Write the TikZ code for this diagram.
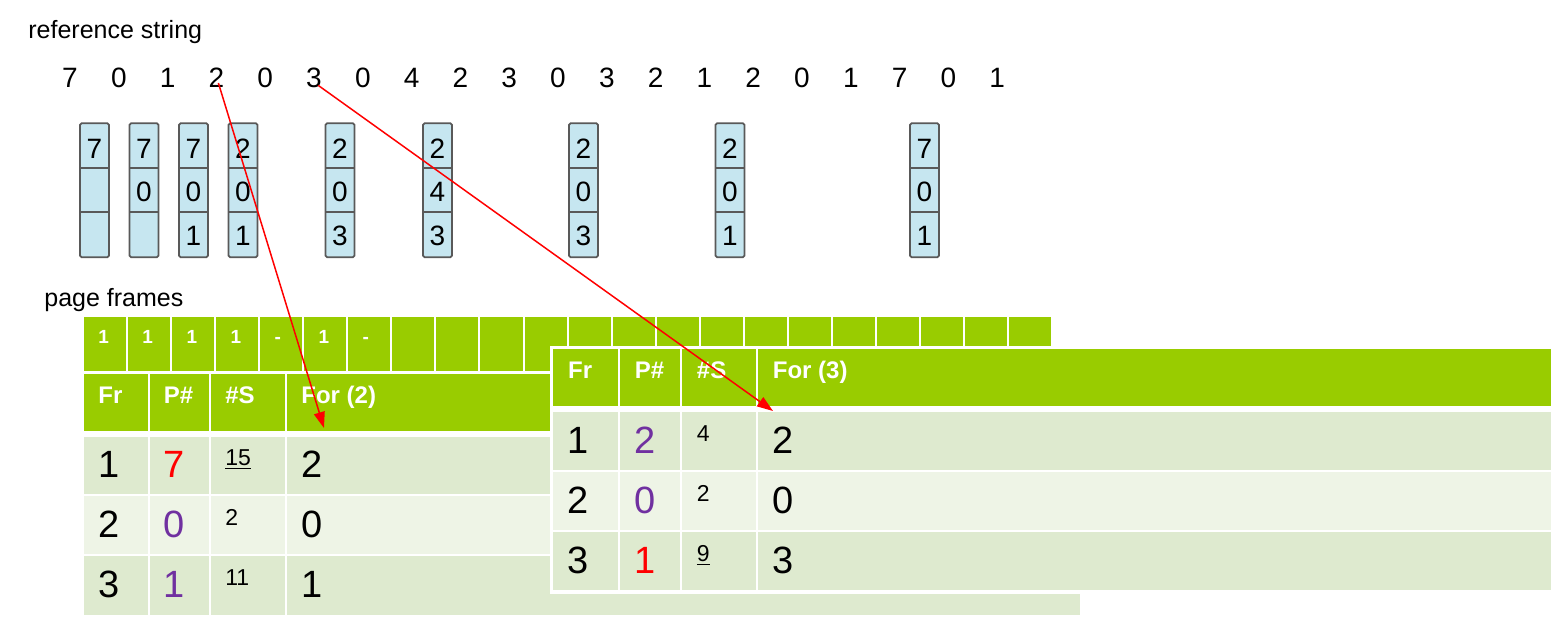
\documentclass[tikz,border=0pt]{standalone}
\usepackage{fontspec}
\setmainfont{Liberation Sans}
\usepackage{tikz}
\usetikzlibrary{arrows.meta,positioning}
\definecolor{framegreen}{HTML}{99CC00}
\definecolor{banddark}{HTML}{DEEACF}
\definecolor{bandlight}{HTML}{EEF4E6}
\definecolor{frameblue}{HTML}{C6E6F0}
\definecolor{pagepurple}{HTML}{7030A0}
\definecolor{hitred}{HTML}{FF0000}

\begin{document}
\begin{tikzpicture}[x=0.5pt,y=-0.5pt,
  cellbox/.style={draw=white, line width=1pt},
  headtxt/.style={anchor=base west, inner sep=0pt, text=white,
    font=\fontsize{12}{12}\selectfont\bfseries},
  bodytxt/.style={anchor=base west, inner sep=0pt,
    font=\fontsize{19}{19}\selectfont},
  cnttxt/.style={anchor=base west, inner sep=0pt,
    font=\fontsize{11.5}{11.5}\selectfont},
  digit/.style={anchor=base, inner sep=0pt,
    font=\fontsize{14}{14}\selectfont}]
  \useasboundingbox (0,0) rectangle (1557,631);

  %% Captions
  \node[anchor=base west, inner sep=0pt, font=\fontsize{12.5}{12.5}\selectfont]
    (reflbl) at (28,39) {reference string};
  \node[anchor=base west, inner sep=0pt, font=\fontsize{12.5}{12.5}\selectfont]
    (pflbl) at (44,306) {page frames};

  %% Reference string
  \foreach \d [count=\i] in {7,0,1,2,0,3,0,4,2,3,0,3,2,1,2,0,1,7,0,1}
    \node[digit] (r\i) at ({70+48.8*(\i-1)},88) {\d};

  %% Frame contents after each fault
  \foreach \x/\a/\b/\c [count=\k] in {94.5/7/{}/{}, 144/7/0/{}, 193.5/7/0/1,
      243/2/0/1, 340/2/0/3, 437.5/2/4/3, 583.5/2/0/3, 730/2/0/1, 924.5/7/0/1} {
    \draw[fill=frameblue, draw=black!65, line width=0.9pt, rounded corners=0.8pt]
      (\x-14.5,123.3) rectangle (\x+14.5,257.3);
    \draw[black!65, line width=0.9pt]
      (\x-14.5,168) -- (\x+14.5,168) (\x-14.5,212) -- (\x+14.5,212);
    \node[digit] (fa\k) at (\x,158) {\a};
    \node[digit] (fb\k) at (\x,201.5) {\b};
    \node[digit] (fc\k) at (\x,245) {\c};
  }

  %% Usage strip
  \foreach \i in {0,...,21}
    \draw[cellbox, fill=framegreen] ({83+44.05*\i},316) rectangle ({83+44.05*(\i+1)},372);
  \foreach \v [count=\i from 0] in {1,1,1,1,-,1,-}
    \node[headtxt, font=\fontsize{9.5}{9.5}\selectfont\bfseries]
      (u\i) at ({98+44.05*\i},343.3) {\v};

  %% Table for (2)
  \foreach \xa/\xb/\t [count=\i] in {83/148.5/Fr, 148.5/210/P\#, 210/286/\#S, 286/1081/For (2)} {
    \draw[cellbox, fill=framegreen] (\xa,372.5) rectangle (\xb,431.5);
    \node[headtxt] (Lh\i) at (\xa+15,403) {\t};
  }
  \foreach \ya/\yb/\fr/\pg/\pc/\cnt/\fo/\band [count=\r] in {
      436/494.5/1/7/hitred/\underline{15}/2/banddark,
      494.5/555/2/0/pagepurple/2/0/bandlight,
      555/615.5/3/1/pagepurple/11/1/banddark} {
    \foreach \xa/\xb in {83/148.5,148.5/210,210/286,286/1081}
      \draw[cellbox, fill=\band] (\xa,\ya) rectangle (\xb,\yb);
    \node[bodytxt] (Lfr\r) at (98,{(\ya+\yb)/2+12.5}) {\fr};
    \node[bodytxt, text=\pc] (Lpg\r) at (163.5,{(\ya+\yb)/2+12.5}) {\pg};
    \node[cnttxt] (Lcnt\r) at (225,{(\ya+\yb)/2+0.5}) {\cnt};
    \node[bodytxt] (Lfo\r) at (301,{(\ya+\yb)/2+12.5}) {\fo};
  }

  %% Table for (3), laid over the first one
  \fill[white] (549.5,345.5) rectangle (1555,593.5);
  \foreach \xa/\xb/\t [count=\i] in {552.3/619/Fr, 619/681/P\#, 681/757/\#S, 757/1552/For (3)} {
    \draw[cellbox, fill=framegreen] (\xa,347.5) rectangle (\xb,406.5);
    \node[headtxt] (Rh\i) at (\xa+15.5,378.3) {\t};
  }
  \foreach \ya/\yb/\fr/\pg/\pc/\cnt/\fo/\band [count=\r] in {
      411/470.5/1/2/pagepurple/4/2/banddark,
      470.5/531/2/0/pagepurple/2/0/bandlight,
      531/591/3/1/hitred/\underline{9}/3/banddark} {
    \foreach \xa/\xb in {552.3/619,619/681,681/757,757/1552}
      \draw[cellbox, fill=\band] (\xa,\ya) rectangle (\xb,\yb);
    \node[bodytxt] (Rfr\r) at (567.5,{(\ya+\yb)/2+12.5}) {\fr};
    \node[bodytxt, text=\pc] (Rpg\r) at (634.5,{(\ya+\yb)/2+12.5}) {\pg};
    \node[cnttxt] (Rcnt\r) at (696.5,{(\ya+\yb)/2+0.5}) {\cnt};
    \node[bodytxt] (Rfo\r) at (772.5,{(\ya+\yb)/2+12.5}) {\fo};
  }

  %% Pointers from the string into the tables
  \coordinate (tipA) at (324,428);
  \coordinate (tipB) at (773,411);
  \draw[hitred, line width=0.75pt, -{Triangle[length=8pt,width=5.5pt]}]
    ([xshift=1pt,yshift=-2.4pt]r4.center) -- (tipA);
  \draw[hitred, line width=0.75pt, -{Triangle[length=8pt,width=5.5pt]}]
    ([xshift=2.1pt,yshift=-3.5pt]r6.center) -- (tipB);
\end{tikzpicture}
\end{document}
